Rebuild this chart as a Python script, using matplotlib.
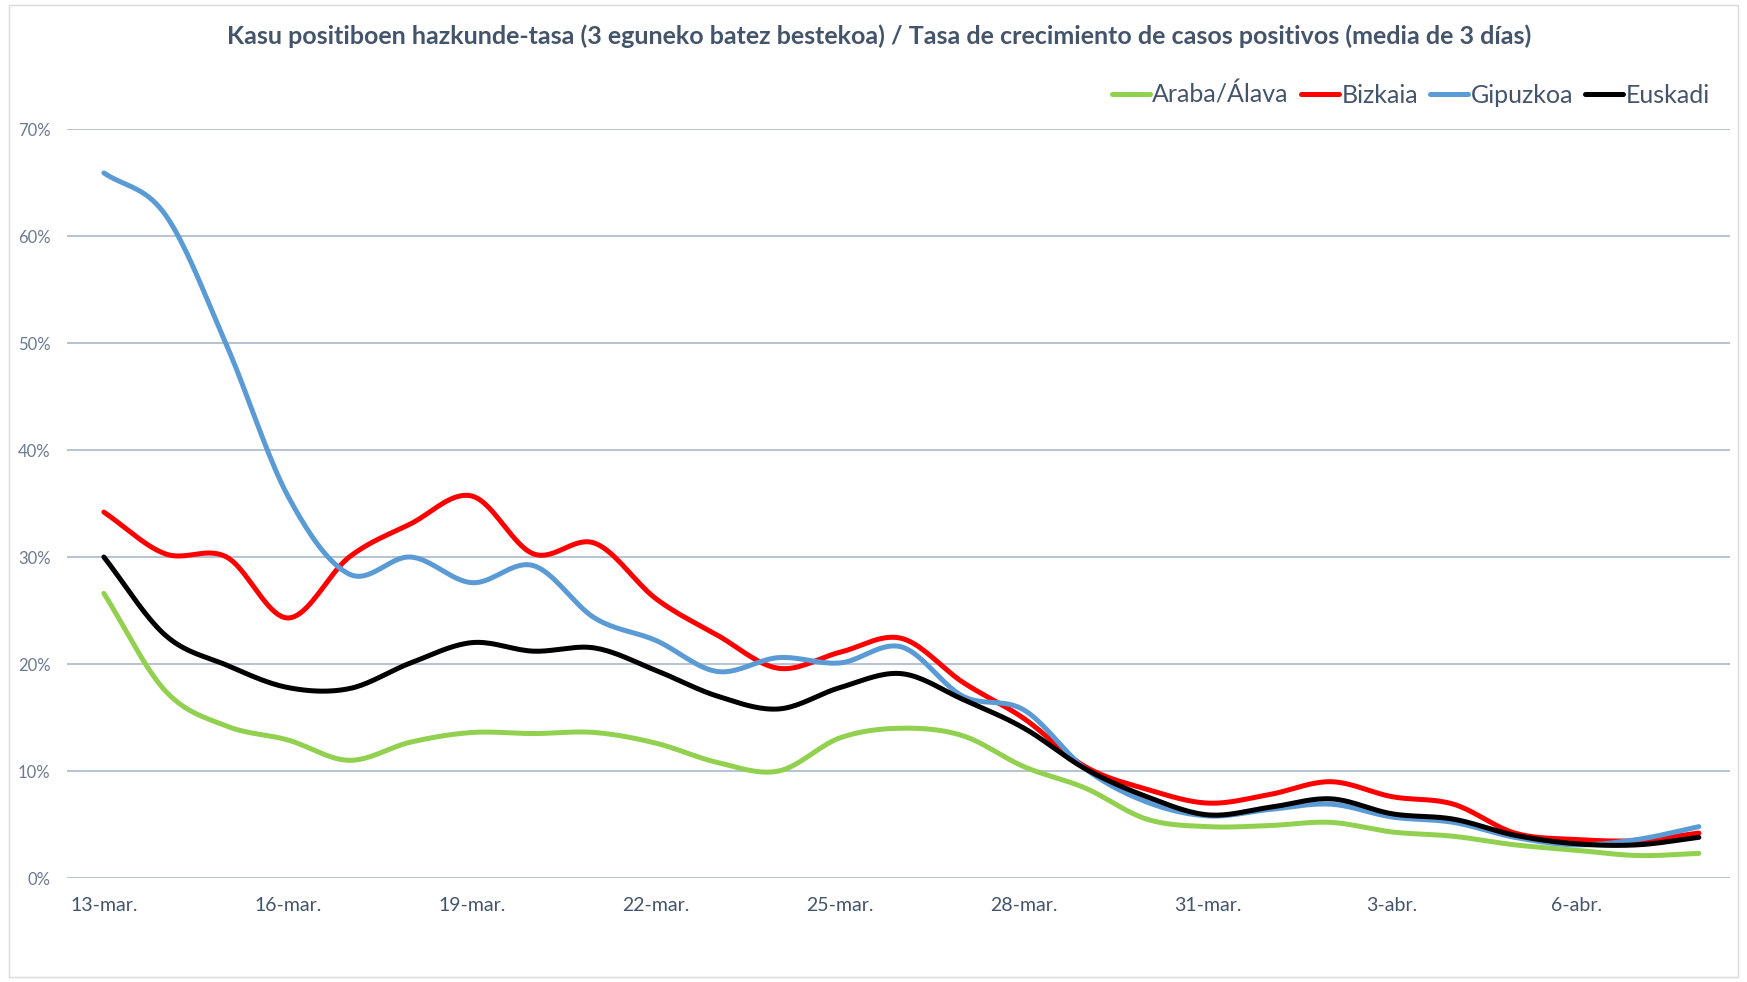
import numpy as np
import matplotlib
matplotlib.use("Agg")
import matplotlib.pyplot as plt
from matplotlib.patches import Rectangle

plt.rcParams['font.family'] = ['Lato', 'DejaVu Sans']

# ------------------------------------------------
## Data (percent, 3-day moving average)
# ------------------------------------------------
days = ["13-mar.", "14-mar.", "15-mar.", "16-mar.", "17-mar.", "18-mar.", "19-mar.",
        "20-mar.", "21-mar.", "22-mar.", "23-mar.", "24-mar.", "25-mar.", "26-mar.",
        "27-mar.", "28-mar.", "29-mar.", "30-mar.", "31-mar.", "1-abr.", "2-abr.",
        "3-abr.", "4-abr.", "5-abr.", "6-abr.", "7-abr.", "8-abr."]

araba = [26.6, 17.5, 14.2, 12.9, 11.0, 12.7, 13.6, 13.5, 13.6, 12.6, 10.8, 10.0, 13.1, 14.0,
         13.3, 10.4, 8.4, 5.5, 4.8, 4.9, 5.2, 4.3, 3.9, 3.1, 2.6, 2.1, 2.3]
bizkaia = [34.2, 30.3, 30.0, 24.3, 30.0, 33.1, 35.7, 30.3, 31.3, 26.1, 22.7, 19.6, 21.1, 22.4,
           18.3, 14.9, 10.4, 8.3, 7.0, 7.8, 9.0, 7.6, 6.9, 4.2, 3.6, 3.5, 4.2]
gipuzkoa = [65.9, 62.0, 49.8, 35.7, 28.4, 30.0, 27.6, 29.2, 24.3, 22.2, 19.3, 20.6, 20.1, 21.6,
            17.0, 15.7, 10.2, 7.1, 5.8, 6.4, 6.9, 5.7, 5.2, 3.8, 3.1, 3.6, 4.8]
euskadi = [30.0, 22.7, 19.9, 17.8, 17.7, 20.1, 22.0, 21.2, 21.5, 19.4, 17.0, 15.8, 17.8, 19.1,
           16.7, 14.0, 10.2, 7.6, 5.9, 6.6, 7.4, 6.0, 5.5, 4.0, 3.2, 3.1, 3.8]

series = [("Araba/Álava", araba, "#92D050"),
          ("Bizkaia", bizkaia, "#FF0000"),
          ("Gipuzkoa", gipuzkoa, "#5B9BD5"),
          ("Euskadi", euskadi, "#000000")]

title = "Kasu positiboen hazkunde-tasa (3 eguneko batez bestekoa) / Tasa de crecimiento de casos positivos (media de 3 días)"


def smooth(x, y, n=20):
    # Catmull-Rom curve through the points, like Excel's smoothed line
    x = np.asarray(x, float)
    y = np.asarray(y, float)
    px = np.concatenate([[2 * x[0] - x[1]], x, [2 * x[-1] - x[-2]]])
    py = np.concatenate([[2 * y[0] - y[1]], y, [2 * y[-1] - y[-2]]])
    xs, ys = [], []
    t = np.linspace(0, 1, n, endpoint=False)
    for i in range(1, len(px) - 2):
        for p, out in ((px, xs), (py, ys)):
            p0, p1, p2, p3 = p[i - 1], p[i], p[i + 1], p[i + 2]
            out.extend(0.5 * ((2 * p1) + (-p0 + p2) * t
                              + (2 * p0 - 5 * p1 + 4 * p2 - p3) * t ** 2
                              + (-p0 + 3 * p1 - 3 * p2 + p3) * t ** 3))
    xs.append(x[-1])
    ys.append(y[-1])
    return np.array(xs), np.array(ys)


fig = plt.figure(figsize=(17.47, 9.82), dpi=100)
fig.patches.append(Rectangle((0.005, 0.005), 0.99, 0.99, transform=fig.transFigure,
                             fill=False, edgecolor="#D9D9D9", linewidth=1))
ax = fig.add_axes([0.0384, 0.1059, 0.9516, 0.7627])

xpos = np.arange(len(days))
for name, vals, color in series:
    sx, sy = smooth(xpos, np.array(vals) / 100)
    ax.plot(sx, sy, color=color, linewidth=3.6, label=name, solid_capstyle="round")

ax.set_xlim(-0.6, len(days) - 0.5)
ax.set_ylim(0, 0.70)
ax.set_yticks(np.arange(0, 0.71, 0.10))
ax.set_yticklabels([f"{int(round(v * 100))}%" for v in np.arange(0, 0.71, 0.10)],
                   fontsize=12, color="#6B7A90")
ax.set_xticks(xpos[::3])
ax.set_xticklabels(days[::3], fontsize=14, color="#44546A")
ax.tick_params(axis="both", length=0)
ax.tick_params(axis="y", pad=12)
ax.tick_params(axis="x", pad=14)
ax.grid(axis="y", color="#A3B1C8", linewidth=1.1)
ax.set_axisbelow(True)
for s in ax.spines.values():
    s.set_visible(False)

fig.text(0.503, 0.963, title, ha="center", va="center", fontsize=18, fontweight="bold",
         color="#44546A")

leg = ax.legend(loc="center right", bbox_to_anchor=(0.988, 1.046), ncol=4, frameon=False,
                fontsize=18, handlelength=1.5, handletextpad=0.1, columnspacing=0.5,
                borderaxespad=0, borderpad=0)
for t in leg.get_texts():
    t.set_color("#44546A")

fig.savefig("out.png", dpi=100)
